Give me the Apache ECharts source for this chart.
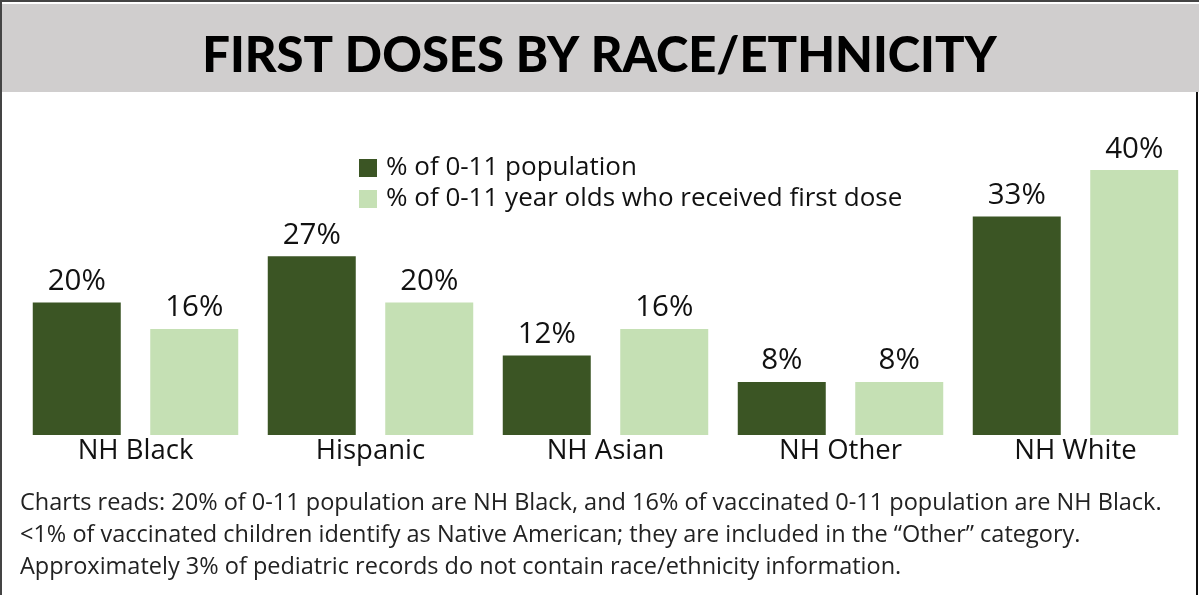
<!DOCTYPE html>
<html>
<head>
<meta charset="utf-8">
<style>
  html, body { margin: 0; padding: 0; background: #ffffff; }
  #chart { width: 1199px; height: 595px; }
</style>
<script src="https://cdn.jsdelivr.net/npm/echarts@6/dist/echarts.min.js"></script>
</head>
<body>
<div id="chart"></div>
<script>
// Groups along the x axis
const categories = ['NH Black', 'Hispanic', 'NH Asian', 'NH Other', 'NH White'];

// Share of the 0-11 population (%)
const populationShare = [20, 27, 12, 8, 33];

// Share of 0-11 year olds who received a first dose (%)
const firstDoseShare = [16, 20, 16, 8, 40];

const seriesNames = ['% of 0-11 population', '% of 0-11 year olds who received first dose'];

const titleText = 'FIRST DOSES BY RACE/ETHNICITY';

const footnotes = [
  'Charts reads: 20% of 0-11 population are NH Black, and 16% of vaccinated 0-11 population are NH Black.',
  '<1% of vaccinated children identify as Native American; they are included in the \u201COther\u201D category.',
  'Approximately 3% of pediatric records do not contain race/ethnicity information.'
];

const W = 1199, H = 595;
const labelFont = '"Open Sans", "Noto Sans", sans-serif';
const noteFont = '"Open Sans", "Noto Sans", sans-serif';

const chart = echarts.init(document.getElementById('chart'), null, { renderer: 'canvas' });

const valueLabel = {
  show: true,
  position: 'top',
  distance: 6,
  formatter: '{c}%',
  fontFamily: labelFont,
  fontSize: 29.5,
  color: '#111111'
};

chart.setOption({
  animation: false,
  backgroundColor: '#ffffff',
  graphic: [
    // header band
    { type: 'rect', shape: { x: 2, y: 4, width: W - 2, height: 88 }, style: { fill: '#d0cece' }, z: 0 },
    // frame lines
    { type: 'rect', shape: { x: 0, y: 0, width: W, height: 2 }, style: { fill: '#444444' }, z: 1 },
    { type: 'rect', shape: { x: 0, y: 0, width: 2, height: H }, style: { fill: '#444444' }, z: 1 },
    { type: 'rect', shape: { x: W - 3, y: 92, width: 2, height: H - 92 }, style: { fill: '#111111' }, z: 1 },
    {
      type: 'text', left: 'center', top: 32, z: 2,
      style: {
        text: titleText,
        font: '900 49px Lato, "Noto Sans", sans-serif',
        fill: '#000000'
      }
    },
    ...footnotes.map((t, i) => ({
      type: 'text', x: 20, y: 503 + i * 32, z: 2,
      style: {
        text: t,
        fontFamily: noteFont,
        fontSize: 23.5,
        fill: '#222222',
        verticalAlign: 'middle'
      }
    }))
  ],
  legend: {
    orient: 'vertical',
    left: 354,
    top: 150,
    itemWidth: 18,
    itemHeight: 18,
    itemGap: 5,
    icon: 'rect',
    data: seriesNames,
    textStyle: {
      fontFamily: labelFont,
      fontSize: 26,
      color: '#111111',
      padding: [0, 0, 0, 4]
    }
  },
  grid: { left: 18, right: 6, top: 137, bottom: 160, containLabel: false },
  xAxis: {
    type: 'category',
    data: categories,
    axisLine: { show: false },
    axisTick: { show: false },
    axisLabel: {
      fontFamily: labelFont,
      fontSize: 27.5,
      color: '#111111',
      margin: 2
    }
  },
  yAxis: {
    type: 'value',
    min: 0,
    max: 45,
    show: false,
    splitLine: { show: false }
  },
  series: [
    {
      name: seriesNames[0],
      type: 'bar',
      data: populationShare,
      barWidth: 88,
      barGap: '33.5%',
      itemStyle: { color: '#3b5524' },
      label: valueLabel
    },
    {
      name: seriesNames[1],
      type: 'bar',
      data: firstDoseShare,
      barWidth: 88,
      barGap: '33.5%',
      itemStyle: { color: '#c5e0b4' },
      label: valueLabel
    }
  ]
});
</script>
</body>
</html>
